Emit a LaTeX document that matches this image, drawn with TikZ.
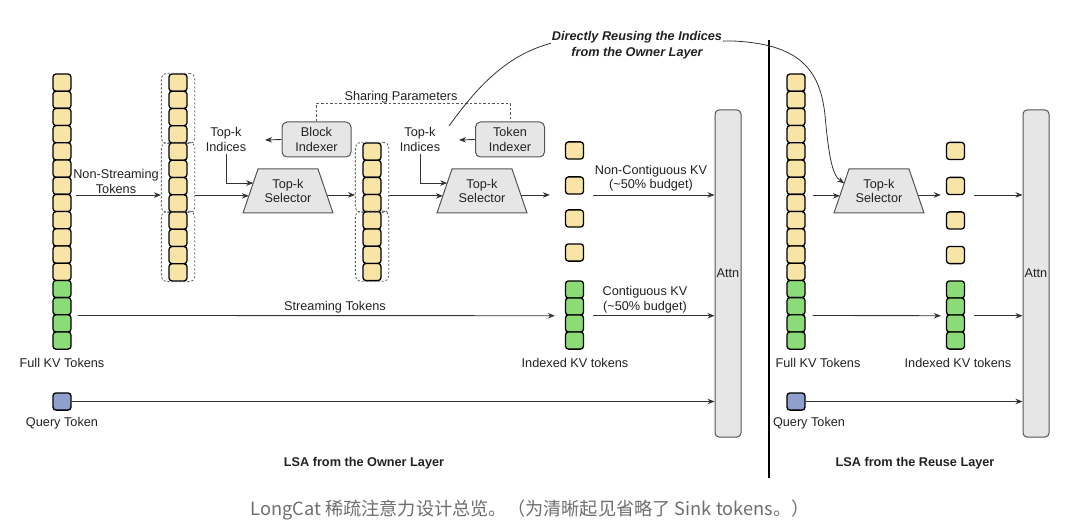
\documentclass[tikz,border=0pt]{standalone}
\usepackage{fontspec}
\setmainfont{Liberation Sans}
\newfontfamily\cjkfont{Noto Sans CJK SC}
\usetikzlibrary{calc,fit,arrows.meta}
\definecolor{kvy}{HTML}{F7E4A6}
\definecolor{kvg}{HTML}{8BDB78}
\definecolor{kvb}{HTML}{8FA0CC}
\definecolor{boxg}{HTML}{E6E6E6}
\definecolor{edge}{HTML}{555555}
\definecolor{ink}{HTML}{222222}
\definecolor{wire}{HTML}{333333}
\definecolor{capg}{HTML}{6E6E6E}
\newcommand{\mkselector}[3]{%
  \coordinate (#1-bl) at (#2-45,#3+22);
  \coordinate (#1-tl) at (#2-30,#3-22);
  \coordinate (#1-tr) at (#2+30,#3-22);
  \coordinate (#1-br) at (#2+45,#3+22);
  \filldraw[selbox] (#1-bl) -- (#1-tl) -- (#1-tr) -- (#1-br) -- cycle;
  \node[lbl] (#1) at (#2,#3) {Top-k\\Selector};
  \coordinate (#1-ix) at ($(#1-tl)!0.32!(#1-bl)$);
  \coordinate (#1-in) at ($(#1-tl)!0.61!(#1-bl)$);
  \coordinate (#1-out) at ($(#1-tr)!0.59!(#1-br)$);
}
\begin{document}
\begin{tikzpicture}[x=1pt,y=-1pt,
  every node/.style={font=\fontsize{12.7}{14.5}\selectfont, text=ink},
  lbl/.style={align=center, inner sep=2pt},
  bold/.style={align=center, inner sep=2pt, font=\bfseries\fontsize{12.7}{14.5}\selectfont},
  cell/.style={draw=black, line width=1.3pt, rounded corners=3pt, minimum width=18pt, minimum height=17.2pt, inner sep=0pt},
  grp/.style={draw=edge, line width=0.8pt, dash pattern=on 2pt off 2pt, rounded corners=5pt, inner xsep=7pt, inner ysep=0pt},
  selbox/.style={fill=boxg, draw=edge, line width=1pt},
  idx/.style={fill=boxg, draw=edge, line width=1pt, rounded corners=5pt, minimum width=69pt, minimum height=35pt, align=center, inner sep=0pt},
  attn/.style={fill=boxg, draw=edge, line width=1pt, rounded corners=4pt, minimum width=26pt, minimum height=327pt, inner sep=0pt},
  arr/.style={draw=wire, line width=0.9pt, -{Stealth[length=7pt,width=5.5pt]}},
  share/.style={draw=edge, line width=0.9pt, dash pattern=on 2.5pt off 2pt}
]
\useasboundingbox (0,0) rectangle (1080,532);
\fill[white] (0,0) rectangle (1080,532);

% ---------------- Owner layer ----------------
\foreach \i in {1,...,12} \node[cell, fill=kvy] (a\i) at (62,82.6+\i*17.2-17.2) {};
\foreach \i in {13,...,16} \node[cell, fill=kvg] (a\i) at (62,82.6+\i*17.2-17.2) {};
\node[cell, fill=kvb] (q) at (62,401.5) {};
\node[lbl] (fkv) at (62,363) {Full KV Tokens};
\node[lbl] (qt) at (62,423) {Query Token};

\foreach \i in {1,...,12} \node[cell, fill=kvy] (b\i) at (178,82.6+\i*17.25-17.25) {};
\node[grp, fit=(b1)(b4)] (gb1) {};
\node[grp, fit=(b5)(b8)] (gb2) {};
\node[grp, fit=(b9)(b12)] (gb3) {};

\foreach \i in {1,...,8} \node[cell, fill=kvy] (c\i) at (372,151.6+\i*17.2-17.2) {};
\node[grp, fit=(c1)(c4)] (gc1) {};
\node[grp, fit=(c5)(c8)] (gc2) {};

\node[idx] (bi) at (316.5,139.5) {Block\\Indexer};
\node[idx] (ti) at (510,139.5) {Token\\Indexer};
\node[lbl] (shp) at (401,97) {Sharing Parameters};
\draw[share] (bi.north) -- ++(0,-18) -| (ti.north);

\node[lbl] (ind1) at (226,139.5) {Top-k\\Indices};
\node[lbl] (ind2) at (420,139.5) {Top-k\\Indices};
\coordinate (e1) at (265,140);
\coordinate (e2) at (459,140);
\draw[arr] (bi.west) -- (e1);
\draw[arr] (ti.west) -- (e2);

\mkselector{sA}{288}{191}
\mkselector{sB}{482}{191}

\node[cell, fill=kvy] (y1) at (574.5,150.5) {};
\node[cell, fill=kvy] (y2) at (574.5,185.5) {};
\node[cell, fill=kvy] (y3) at (574.5,218.5) {};
\node[cell, fill=kvy] (y4) at (574.5,252.5) {};
\foreach \i in {1,...,4} \node[cell, fill=kvg] (gr\i) at (574.5,289.5+\i*17-17) {};
\node[lbl] (ikv) at (575,363) {Indexed KV tokens};

\node[attn] (attA) at (728,273.5) {Attn};

\draw[arr] ($(a7.south east)+(4,0)$) -- (gb2.west |- a7.south);
\node[lbl] (nst) at (116,181.5) {Non-Streaming\\Tokens};
\draw[arr] (gb2.east |- sA-in) -- (sA-in);
\draw[arr] (ind1.south) |- (sA-ix);
\draw[arr] (sA-out) -- (gc1.west |- sA-out);
\draw[arr] (gc1.east |- sB-in) -- (sB-in);
\draw[arr] (ind2.south) |- (sB-ix);
\draw[arr] (sB-out) -- ($(y2.west |- sB-out)+(-15,0)$);
\draw[arr] ($(y2.east |- sB-out)+(9,0)$) -- (attA.west |- sB-out);
\node[lbl] (nck) at (651,178) {Non-Contiguous KV\\(\textasciitilde 50\% budget)};
\draw[arr] ($(a14.south east)+(6,0)$) -- ($(gr2.south west)+(-10,0)$);
\node[lbl] (stt) at (335,307) {Streaming Tokens};
\draw[arr] ($(gr2.south east)+(9,0)$) -- (attA.west |- gr2.south);
\node[lbl] (ck) at (645,299.5) {Contiguous KV\\(\textasciitilde 50\% budget)};
\draw[arr] (q.east) -- (attA.west |- q.east);

\node[bold] (owner) at (364,463) {LSA from the Owner Layer};

\coordinate (sep1) at (769,40);
\coordinate (sep2) at (769,478);
\draw[line width=1.5pt, black] (sep1) -- (sep2);

% ---------------- Reuse layer ----------------
\foreach \i in {1,...,12} \node[cell, fill=kvy] (ra\i) at (796,82.6+\i*17.2-17.2) {};
\foreach \i in {13,...,16} \node[cell, fill=kvg] (ra\i) at (796,82.6+\i*17.2-17.2) {};
\node[cell, fill=kvb] (rq) at (796,401.5) {};
\node[lbl] (rfkv) at (818,363) {Full KV Tokens};
\node[lbl] (rqt) at (809,423) {Query Token};

\mkselector{sC}{879}{191}

\node[cell, fill=kvy] (ry1) at (955.5,151) {};
\node[cell, fill=kvy] (ry2) at (955.5,186) {};
\node[cell, fill=kvy] (ry3) at (955.5,220.5) {};
\node[cell, fill=kvy] (ry4) at (955.5,255) {};
\foreach \i in {1,...,4} \node[cell, fill=kvg] (rgr\i) at (955.5,289.5+\i*17-17) {};
\node[lbl] (rikv) at (958,363) {Indexed KV tokens};

\node[attn] (attB) at (1036,273.5) {Attn};

\draw[arr] ($(ra7.east |- sC-in)+(7,0)$) -- (sC-in);
\draw[arr] (sC-out) -- ($(ry2.west |- sC-out)+(-5,0)$);
\draw[arr] ($(ry2.east |- sC-out)+(9,0)$) -- (attB.west |- sC-out);
\draw[arr] ($(ra14.south east)+(7,0)$) -- ($(rgr2.south west)+(-5,0)$);
\draw[arr] ($(rgr2.south east)+(9,0)$) -- (attB.west |- rgr2.south);
\draw[arr] (rq.east) -- (attB.west |- rq.east);

\node[bold] (reuse) at (915,463) {LSA from the Reuse Layer};

\coordinate (cs) at (449,126);
\draw[arr, line width=0.8pt] (cs) .. controls (475,90) and (505,55) .. (552,43) -- (733,41)
  .. controls (800,44) and (820,70) .. (825,115) .. controls (829,160) and (833,176) .. (sC-ix);
\node[align=center, fill=white, inner sep=1pt, font=\bfseries\itshape\fontsize{12.7}{16}\selectfont] (dr) at (637,45) {Directly Reusing the Indices\\from the Owner Layer};

\node[text=capg, font=\cjkfont\fontsize{18.2}{20}\selectfont] (cap) at (530,510) {LongCat 稀疏注意力设计总览。（为清晰起见省略了 Sink tokens。）};
\end{tikzpicture}
\end{document}
